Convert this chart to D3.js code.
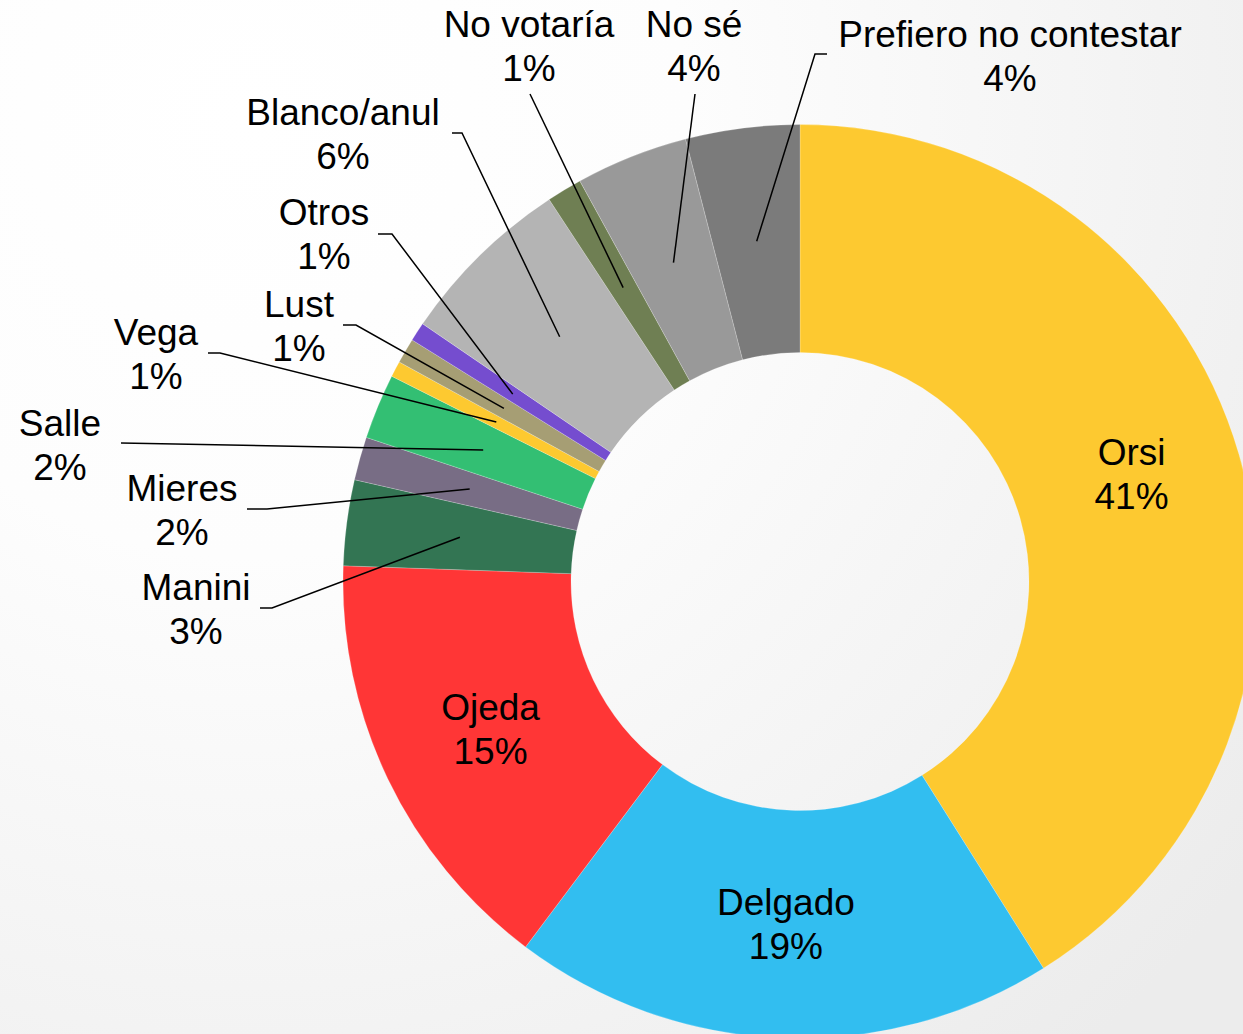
<!DOCTYPE html>
<html>
<head>
<meta charset="UTF-8">
<title>Intención de voto</title>
<script src="https://d3js.org/d3.v7.min.js"></script>
<style>
  html, body { margin: 0; padding: 0; background: #fff; }
  svg { display: block; }
  .lbl { font-family: "Liberation Sans", Arial, sans-serif; font-size: 37px; fill: #000; text-anchor: middle; }
  .leader { fill: none; stroke: #000; stroke-width: 1.5; }
</style>
</head>
<body>
<div id="chart"></div>
<script>
// data (clockwise from 12 o'clock)
const categories = ["Orsi", "Delgado", "Ojeda", "Manini", "Mieres", "Salle", "Vega", "Lust",
                    "Otros", "Blanco/anul", "No votaría", "No sé", "Prefiero no contestar"];
const shares = [41.07, 19.2, 15.3, 3.03, 1.53, 2.31, 0.56, 0.89, 0.67, 6.22, 1.25, 3.97, 4.03];
const colors = ["#FDC930", "#32BEF0", "#FF3636", "#337553", "#786D85", "#33BF73", "#FDC930",
                "#A69E74", "#754DCF", "#B4B4B4", "#6F7F53", "#999999", "#7B7B7B"];

// chart geometry
const width = 1243, height = 1034;
const cx = 800, cy = 581.5;
const outerR = 457, innerR = 229;
const lineGap = 44;

// label placement: inside labels sit on the centroid (dx,dy tweak),
// outside labels have a text anchor and a leader start / elbow
const labelLayout = {
  "Orsi":       { inside: true, dx: 2, dy: -12 },
  "Delgado":    { inside: true, dx: 0, dy: 0 },
  "Ojeda":      { inside: true, dx: 0, dy: 0 },
  "Manini":     { x: 196, y: 600, leader: [[260, 608], [272, 608]] },
  "Mieres":     { x: 182, y: 501, leader: [[247, 509], [267, 509]] },
  "Salle":      { x: 60,  y: 436, leader: [[121, 443]] },
  "Vega":       { x: 156, y: 345, leader: [[208, 353], [220, 353]] },
  "Lust":       { x: 299, y: 317, leader: [[343, 325], [356, 325]] },
  "Otros":      { x: 324, y: 225, leader: [[378, 234], [392, 234]] },
  "Blanco/anul":{ x: 343, y: 125, leader: [[452, 133], [462, 133]] },
  "No votaría": { x: 529, y: 37,  leader: [[530, 94]] },
  "No sé":      { x: 694, y: 37,  leader: [[695, 94]] },
  "Prefiero no contestar": { x: 1010, y: 47, leader: [[827, 54], [815, 54]] }
};

const svg = d3.select("#chart").append("svg")
  .attr("width", width)
  .attr("height", height);

// soft background gradient
const defs = svg.append("defs");
const grad = defs.append("radialGradient")
  .attr("id", "bg")
  .attr("gradientUnits", "userSpaceOnUse")
  .attr("cx", 250).attr("cy", 120).attr("r", 1250);
grad.append("stop").attr("offset", "0").attr("stop-color", "#ffffff");
grad.append("stop").attr("offset", "0.35").attr("stop-color", "#fdfdfd");
grad.append("stop").attr("offset", "1").attr("stop-color", "#ececec");
svg.append("rect").attr("width", width).attr("height", height).attr("fill", "url(#bg)");

const total = d3.sum(shares);
const data = categories.map((c, i) => ({ name: c, value: shares[i], color: colors[i] }));

const pie = d3.pie().sort(null).value(d => d.value);
const arc = d3.arc().innerRadius(innerR).outerRadius(outerR);

const g = svg.append("g").attr("transform", `translate(${cx},${cy})`);
const arcs = pie(data);

g.selectAll("path.slice")
  .data(arcs)
  .enter()
  .append("path")
  .attr("class", "slice")
  .attr("d", arc)
  .attr("fill", d => d.data.color)
  .attr("stroke", "rgba(255,255,255,0.35)")
  .attr("stroke-width", 0.6);

// leader lines
arcs.forEach(a => {
  const lay = labelLayout[a.data.name];
  if (lay.inside) return;
  const c = arc.centroid(a);
  const pts = lay.leader.map(p => [p[0], p[1]]).concat([[c[0] + cx, c[1] + cy]]);
  svg.append("path")
    .attr("class", "leader")
    .attr("d", d3.line()(pts));
});

// labels
arcs.forEach(a => {
  const lay = labelLayout[a.data.name];
  const pct = Math.round(a.data.value / total * 100) + "%";
  let x, y;
  if (lay.inside) {
    const c = arc.centroid(a);
    x = cx + c[0] + lay.dx;
    // centroid = middle of cap top of line 1 and baseline of line 2
    y = cy + c[1] + lay.dy - (lineGap - 26) / 2;
  } else {
    x = lay.x; y = lay.y;
  }
  const t = svg.append("text").attr("class", "lbl").attr("x", x).attr("y", y);
  t.append("tspan").attr("x", x).text(a.data.name);
  t.append("tspan").attr("x", x).attr("dy", lineGap).text(pct);
});
</script>
</body>
</html>
